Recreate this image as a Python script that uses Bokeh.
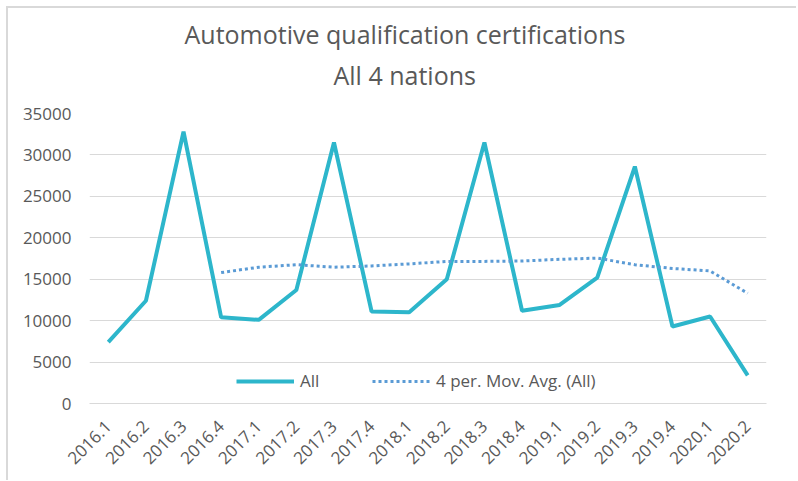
import math
from bokeh.plotting import figure
from bokeh.models import (ColumnDataSource, FactorRange, Range1d, FixedTicker,
                          Legend, LegendItem, Title)
from bokeh.embed import file_html
from bokeh.resources import INLINE

# ---- data ----
quarters = ["2016.1", "2016.2", "2016.3", "2016.4",
            "2017.1", "2017.2", "2017.3", "2017.4",
            "2018.1", "2018.2", "2018.3", "2018.4",
            "2019.1", "2019.2", "2019.3", "2019.4",
            "2020.1", "2020.2"]
all_values = [7400, 12400, 32800, 10400,
              10100, 13700, 31500, 11100,
              11000, 15000, 31500, 11200,
              11900, 15200, 28600, 9300,
              10500, 3400]
ma_quarters = ["2016.4",
               "2017.1", "2017.2", "2017.3", "2017.4",
               "2018.1", "2018.2", "2018.3", "2018.4",
               "2019.1", "2019.2", "2019.3", "2019.4",
               "2020.1", "2020.2"]
ma_values = [15800,
             16450, 16750, 16450, 16600,
             16850, 17150, 17150, 17200,
             17400, 17550, 16750, 16300,
             16000, 13300]
y_ticks = [0, 5000, 10000, 15000, 20000, 25000, 30000, 35000]
title_line1 = "Automotive qualification certifications"
title_line2 = "All 4 nations"
series_label = "All"
ma_label = "4 per. Mov. Avg. (All)"

TEXT = "#595959"
GRID = "#d9d9d9"

src_all = ColumnDataSource(dict(q=quarters, v=all_values))
src_ma = ColumnDataSource(dict(q=ma_quarters, v=ma_values))

p = figure(x_range=FactorRange(factors=quarters, range_padding=0),
           y_range=Range1d(0, 35000),
           width=790, height=474,
           output_backend="svg", toolbar_location=None,
           min_border_left=83, min_border_right=30,
           min_border_top=107, min_border_bottom=77,
           outline_line_color=None,
           background_fill_color="white", border_fill_alpha=0)
p.styles = {"margin-left": "6px", "margin-top": "6px",
            "box-shadow": "inset 2px 2px 0 0 #d9d9d9"}

r_all = p.line(x="q", y="v", source=src_all, line_color="#2DB6CB", line_width=4)
r_ma = p.line(x="q", y="v", source=src_ma, line_color="#5B9BD5", line_width=3,
              line_dash="3 3")

# axes
p.xgrid.grid_line_color = None
p.ygrid.grid_line_color = GRID
p.ygrid.grid_line_width = 1
p.yaxis.ticker = FixedTicker(ticks=y_ticks)
p.yaxis.axis_line_color = None
p.yaxis.major_tick_line_color = None
p.yaxis.minor_tick_line_color = None
p.yaxis.major_tick_out = 0
p.yaxis.major_tick_in = 0
p.yaxis.major_label_standoff = 18
p.yaxis.major_label_text_font = "Open Sans"
p.yaxis.major_label_text_font_size = "17px"
p.yaxis.major_label_text_color = TEXT

p.xaxis.axis_line_color = GRID
p.xaxis.major_tick_line_color = None
p.xaxis.minor_tick_line_color = None
p.xaxis.major_tick_out = 0
p.xaxis.major_tick_in = 0
p.xaxis.major_label_orientation = math.pi / 4
p.xaxis.major_label_standoff = 20
p.xaxis.major_label_text_font = "Open Sans"
p.xaxis.major_label_text_font_size = "17px"
p.xaxis.major_label_text_color = TEXT

# title lines (second line sits closest to the plot)
p.add_layout(Title(text=title_line2, align="left", offset=244, standoff=43,
                   text_font="Open Sans", text_font_size="25px",
                   text_font_style="normal", text_color=TEXT), "above")
p.add_layout(Title(text=title_line1, align="left", offset=95, standoff=-33,
                   text_font="Open Sans", text_font_size="25px",
                   text_font_style="normal", text_color=TEXT), "above")

legend = Legend(items=[LegendItem(label=series_label, renderers=[r_all]),
                       LegendItem(label=ma_label, renderers=[r_ma])],
                orientation="horizontal", location=(147, 11),
                background_fill_alpha=0, border_line_color=None,
                label_text_font="Open Sans", label_text_font_size="17px",
                label_text_color=TEXT, glyph_width=58, glyph_height=20,
                spacing=52, label_standoff=6, padding=0, margin=0)
p.add_layout(legend, "center")

open("out.html", "w").write(file_html(p, INLINE))
